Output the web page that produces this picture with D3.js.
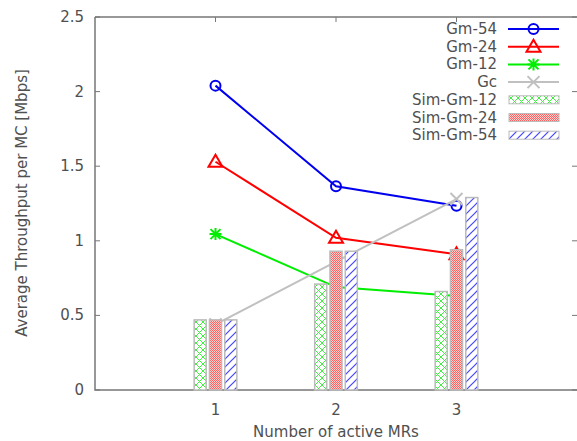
<!DOCTYPE html>
<html>
<head>
<meta charset="utf-8">
<script src="https://cdn.jsdelivr.net/npm/d3@7"></script>
<style>
body { margin: 0; background: #fff; }
text { font-family: "DejaVu Sans", sans-serif; fill: #505050; }
</style>
</head>
<body>
<div id="chart"></div>
<script>
// data
const mrs = [1, 2, 3];
const gm54 = [2.04, 1.365, 1.235];
const gm24 = [1.53, 1.02, 0.91];
const gm12 = [1.045, 0.69, 0.63];
const gc = [0.44, 0.86, 1.28];
const simGm12 = [0.47, 0.71, 0.66];
const simGm24 = [0.47, 0.93, 0.94];
const simGm54 = [0.47, 0.93, 1.29];
const yTicks = [0, 0.5, 1, 1.5, 2, 2.5];

const w = 577, h = 441;
const svg = d3.select("#chart").append("svg").attr("width", w).attr("height", h);

const x = d3.scaleLinear().domain([0, 4]).range([95, 577]);
const y = d3.scaleLinear().domain([0, 2.5]).range([390, 17]);

// patterns
const defs = svg.append("defs");
let p = defs.append("pattern").attr("id", "pGreen").attr("patternUnits", "userSpaceOnUse")
	.attr("width", 7).attr("height", 7);
p.append("rect").attr("width", 7).attr("height", 7).attr("fill", "#fff");
p.append("path").attr("d", "M0,0L7,7M7,0L0,7").attr("stroke", "#44ee44").attr("stroke-width", 1);

p = defs.append("pattern").attr("id", "pRed").attr("patternUnits", "userSpaceOnUse")
	.attr("width", 2).attr("height", 2);
p.append("rect").attr("width", 2).attr("height", 2).attr("fill", "#ffd0d0");
p.append("rect").attr("width", 1).attr("height", 1).attr("fill", "#ff6060");
p.append("rect").attr("x", 1).attr("y", 1).attr("width", 1).attr("height", 1).attr("fill", "#ff6060");

p = defs.append("pattern").attr("id", "pBlue").attr("patternUnits", "userSpaceOnUse")
	.attr("width", 8).attr("height", 8);
p.append("rect").attr("width", 8).attr("height", 8).attr("fill", "#fff");
p.append("path").attr("d", "M0,8L8,0M-1,1L1,-1M7,9L9,7").attr("stroke", "#4444ff").attr("stroke-width", 1.2);

// frame
const frameColor = "#777";
svg.append("path").attr("d", "M95,17H577M95,17V390H577").attr("fill", "none")
	.attr("stroke", frameColor).attr("stroke-width", 1.5);

// y ticks
yTicks.forEach(function(t) {
	svg.append("line").attr("x1", 95).attr("x2", 100).attr("y1", y(t)).attr("y2", y(t)).attr("stroke", frameColor);
	svg.append("line").attr("x1", 572).attr("x2", 577).attr("y1", y(t)).attr("y2", y(t)).attr("stroke", frameColor);
	svg.append("text").attr("x", 84).attr("y", y(t) + 5).attr("text-anchor", "end")
		.attr("font-size", 15).text(t);
});
// x ticks
mrs.forEach(function(t) {
	svg.append("line").attr("x1", x(t)).attr("x2", x(t)).attr("y1", 390).attr("y2", 385).attr("stroke", frameColor);
	svg.append("line").attr("x1", x(t)).attr("x2", x(t)).attr("y1", 17).attr("y2", 22).attr("stroke", frameColor);
	svg.append("text").attr("x", x(t)).attr("y", 415).attr("text-anchor", "middle")
		.attr("font-size", 15).text(t);
});

svg.append("text").attr("x", 336).attr("y", 437).attr("text-anchor", "middle")
	.attr("font-size", 15).text("Number of active MRs");
svg.append("text").attr("transform", "translate(27,203) rotate(-90)").attr("text-anchor", "middle")
	.attr("font-size", 15).text("Average Throughput per MC [Mbps]");

// markers
function drawMarker(g, kind, cx, cy, color) {
	if (kind == "circle")
		g.append("circle").attr("cx", cx).attr("cy", cy).attr("r", 5).attr("fill", "none")
			.attr("stroke", color).attr("stroke-width", 2);
	else if (kind == "triangle")
		g.append("path").attr("d", "M" + cx + "," + (cy - 7) + "L" + (cx + 7) + "," + (cy + 5) + "L" + (cx - 7) + "," + (cy + 5) + "Z")
			.attr("fill", "none").attr("stroke", color).attr("stroke-width", 2);
	else if (kind == "star")
		g.append("path").attr("d", "M" + (cx - 6) + "," + cy + "H" + (cx + 6) + "M" + cx + "," + (cy - 6) + "V" + (cy + 6)
			+ "M" + (cx - 5) + "," + (cy - 5) + "L" + (cx + 5) + "," + (cy + 5) + "M" + (cx + 5) + "," + (cy - 5) + "L" + (cx - 5) + "," + (cy + 5))
			.attr("stroke", color).attr("stroke-width", 2);
	else if (kind == "cross")
		g.append("path").attr("d", "M" + (cx - 6) + "," + (cy - 6) + "L" + (cx + 6) + "," + (cy + 6) + "M" + (cx + 6) + "," + (cy - 6) + "L" + (cx - 6) + "," + (cy + 6))
			.attr("stroke", color).attr("stroke-width", 2);
}

const lineSeries = [
	{ name: "Gm-54", values: gm54, color: "#0000ee", marker: "circle" },
	{ name: "Gm-24", values: gm24, color: "#ff0000", marker: "triangle" },
	{ name: "Gm-12", values: gm12, color: "#00ee00", marker: "star" },
	{ name: "Gc", values: gc, color: "#c0c0c0", marker: "cross" }
];
const barSeries = [
	{ name: "Sim-Gm-12", values: simGm12, fill: "url(#pGreen)", off: -0.127 },
	{ name: "Sim-Gm-24", values: simGm24, fill: "url(#pRed)", off: 0 },
	{ name: "Sim-Gm-54", values: simGm54, fill: "url(#pBlue)", off: 0.127 }
];

const line = d3.line().x(function(d) { return x(d[0]) }).y(function(d) { return y(d[1]) });
const plot = svg.append("g");
lineSeries.forEach(function(s) {
	let pts = mrs.map(function(m, i) { return [m, s.values[i]] });
	plot.append("path").attr("d", line(pts)).attr("fill", "none")
		.attr("stroke", s.color).attr("stroke-width", 2);
	pts.forEach(function(pt) { drawMarker(plot, s.marker, x(pt[0]), y(pt[1]), s.color) });
});

// bars on top of lines
const bw = 0.1;
barSeries.forEach(function(s) {
	plot.selectAll(null).data(s.values).enter().append("rect")
		.attr("x", function(d, i) { return x(mrs[i] + s.off - bw / 2) })
		.attr("width", x(bw) - x(0))
		.attr("y", function(d) { return y(d) })
		.attr("height", function(d) { return y(0) - y(d) })
		.attr("fill", s.fill).attr("stroke", "#bbbbbb").attr("stroke-width", 1.5);
});

// legend
const leg = svg.append("g");
const ly0 = 29, ldy = 17.7;
lineSeries.forEach(function(s, i) {
	let yy = ly0 + i * ldy;
	leg.append("text").attr("x", 497).attr("y", yy + 5).attr("text-anchor", "end").attr("font-size", 15).text(s.name);
	leg.append("line").attr("x1", 508).attr("x2", 559).attr("y1", yy).attr("y2", yy)
		.attr("stroke", s.color).attr("stroke-width", 2);
	drawMarker(leg, s.marker, 533.5, yy, s.color);
});
barSeries.forEach(function(s, j) {
	let yy = ly0 + (j + 4) * ldy;
	leg.append("text").attr("x", 497).attr("y", yy + 5).attr("text-anchor", "end").attr("font-size", 15).text(s.name);
	leg.append("rect").attr("x", 509).attr("y", yy - 4).attr("width", 50).attr("height", 8)
		.attr("fill", s.fill).attr("stroke", "#bbbbbb").attr("stroke-width", 1);
});
</script>
</body>
</html>
